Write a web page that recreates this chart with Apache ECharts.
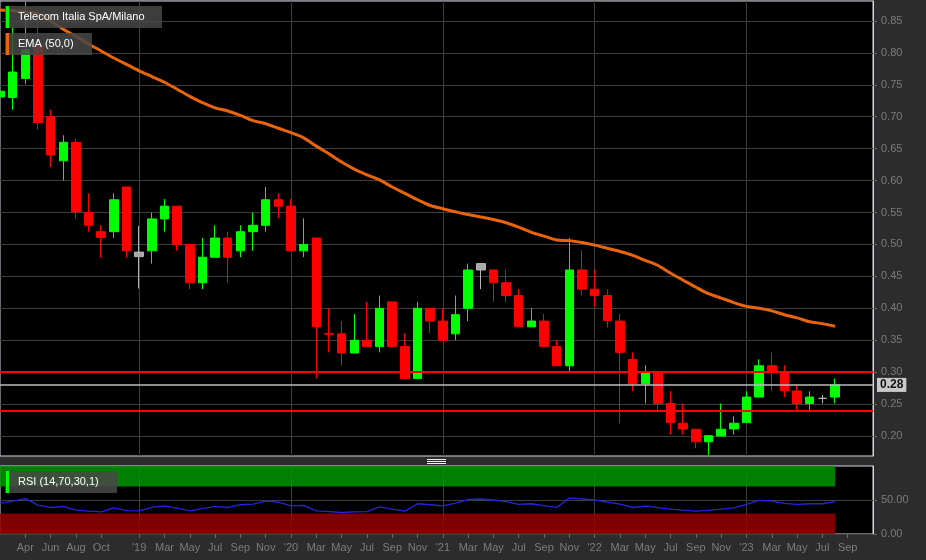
<!DOCTYPE html>
<html>
<head>
<meta charset="utf-8">
<script src="https://cdn.jsdelivr.net/npm/echarts@6/dist/echarts.min.js"></script>
<style>
html,body{margin:0;padding:0;background:#2c2c2c;}
#chart{width:926px;height:560px;}
</style>
</head>
<body>
<div id="chart"></div>
<script>
// Monthly categories (Feb 2018 .. Nov 2023)
const months = [
 '2018-02','2018-03','2018-04','2018-05','2018-06','2018-07','2018-08','2018-09','2018-10','2018-11','2018-12',
 '2019-01','2019-02','2019-03','2019-04','2019-05','2019-06','2019-07','2019-08','2019-09','2019-10','2019-11','2019-12',
 '2020-01','2020-02','2020-03','2020-04','2020-05','2020-06','2020-07','2020-08','2020-09','2020-10','2020-11','2020-12',
 '2021-01','2021-02','2021-03','2021-04','2021-05','2021-06','2021-07','2021-08','2021-09','2021-10','2021-11','2021-12',
 '2022-01','2022-02','2022-03','2022-04','2022-05','2022-06','2022-07','2022-08','2022-09','2022-10','2022-11','2022-12',
 '2023-01','2023-02','2023-03','2023-04','2023-05','2023-06','2023-07','2023-08','2023-09','2023-10','2023-11'
];
const monthNames = ['Jan','Feb','Mar','Apr','May','Jun','Jul','Aug','Sep','Oct','Nov','Dec'];

// OHLC (Feb 2018 .. Aug 2023)
const open = [0.731,0.730,0.760,0.811,0.700,0.631,0.660,0.550,0.520,0.520,0.590,
 0.488,0.490,0.540,0.560,0.500,0.440,0.480,0.510,0.490,0.520,0.530,0.570,
 0.560,0.490,0.510,0.3605,0.360,0.330,0.350,0.340,0.410,0.340,0.290,0.400,
 0.380,0.360,0.400,0.470,0.460,0.440,0.420,0.371,0.380,0.340,0.310,0.460,
 0.430,0.420,0.380,0.320,0.282,0.301,0.251,0.220,0.2105,0.191,0.200,0.211,
 0.221,0.261,0.310,0.301,0.2705,0.251,0.259,0.261];
const close = [0.740,0.770,0.805,0.691,0.640,0.660,0.551,0.530,0.511,0.570,0.490,
 0.481,0.540,0.560,0.500,0.440,0.480,0.510,0.480,0.520,0.530,0.570,0.560,
 0.490,0.500,0.371,0.3595,0.330,0.350,0.340,0.400,0.340,0.290,0.400,0.380,
 0.350,0.390,0.460,0.460,0.440,0.420,0.371,0.380,0.340,0.310,0.460,0.430,
 0.420,0.381,0.331,0.282,0.301,0.251,0.221,0.211,0.191,0.2005,0.2105,0.220,
 0.261,0.310,0.301,0.271,0.251,0.261,0.259,0.280];
const low = [0.653,0.711,0.751,0.680,0.621,0.600,0.541,0.520,0.479,0.510,0.479,
 0.431,0.470,0.520,0.490,0.430,0.430,0.480,0.440,0.480,0.490,0.520,0.541,
 0.490,0.480,0.290,0.331,0.310,0.330,0.340,0.331,0.340,0.290,0.290,0.361,
 0.350,0.350,0.380,0.430,0.410,0.410,0.371,0.371,0.340,0.310,0.301,0.420,
 0.402,0.370,0.220,0.270,0.251,0.241,0.202,0.202,0.181,0.170,0.200,0.202,
 0.221,0.261,0.270,0.261,0.240,0.240,0.251,0.251];
const high = [0.745,0.840,0.880,0.870,0.711,0.671,0.665,0.580,0.530,0.580,0.590,
 0.529,0.550,0.571,0.560,0.500,0.510,0.530,0.520,0.530,0.550,0.590,0.580,
 0.571,0.541,0.510,0.400,0.380,0.391,0.410,0.420,0.410,0.361,0.410,0.400,
 0.400,0.420,0.470,0.470,0.460,0.461,0.430,0.400,0.391,0.350,0.510,0.491,
 0.461,0.430,0.391,0.331,0.311,0.301,0.270,0.251,0.2105,0.2005,0.251,0.231,
 0.270,0.320,0.331,0.311,0.280,0.270,0.264,0.290];
// candles drawn neutral (grey) in the reference
const neutralIdx = [11, 38, 65];

// EMA(50) values
const ema = [0.867,0.866,0.864,0.861,0.850,0.837,0.826,0.814,0.803,0.792,0.782,
 0.772,0.763,0.754,0.743,0.732,0.722,0.714,0.709,0.702,0.694,0.689,0.682,
 0.675,0.667,0.654,0.642,0.629,0.618,0.609,0.601,0.590,0.580,0.570,0.561,
 0.556,0.551,0.547,0.543,0.539,0.534,0.527,0.519,0.513,0.507,0.506,0.503,
 0.499,0.494,0.489,0.483,0.475,0.467,0.455,0.444,0.433,0.423,0.416,0.409,
 0.403,0.400,0.396,0.390,0.385,0.379,0.376,0.372];

// RSI(14)
const rsi = [45,48.5,52,42.5,39,40.6,35,33.6,32.5,38.5,34.3,
 34,39,41.5,38,34,37.3,40.6,39,43,44,48.5,47,
 41.5,42,34,32.8,31.6,32.4,33,40,36.6,33.6,44.5,43,
 41.5,45.5,50.7,51.5,50,47.5,43.6,44.5,41.6,39,53,51.5,
 50,47,44,39,41,38.8,36.6,35,33.6,34.6,36.6,38.5,
 43.6,49.5,48.5,45,43.6,44.5,44.5,47.5];

const priceTicks = [0.20,0.25,0.30,0.35,0.40,0.45,0.50,0.55,0.60,0.65,0.70,0.75,0.80,0.85];
const rsiTicks = [0, 50];
const supportLines = [0.3034, 0.2428];
const lastPrice = 0.281;
const rsiUpper = 70, rsiLower = 30;

const candleData = open.map((o, i) => {
  const v = [o, close[i], low[i], high[i]];
  if (neutralIdx.indexOf(i) >= 0) {
    return {value: v, itemStyle: {color: '#a8a8a8', color0: '#a8a8a8', borderColor: '#b4b4b4', borderColor0: '#b4b4b4'}};
  }
  return v;
});

function showLabel(idx, val) {
  const y = +val.slice(0, 4), m = +val.slice(5, 7);
  if (y === 2018) return m === 4 || m === 6 || m === 8 || m === 10;
  if (y === 2023 && m === 11) return false;
  return m % 2 === 1;
}
function isJan(idx, val) { return val.slice(5, 7) === '01'; }
function fmtMonth(val) {
  const y = val.slice(2, 4), m = +val.slice(5, 7);
  return m === 1 ? "'" + y : monthNames[m - 1];
}

const chart = echarts.init(document.getElementById('chart'), null, {renderer: 'canvas'});
const gridLine = {show: true, lineStyle: {color: '#3e3e3e', width: 1}};
const font = 'Liberation Sans, Arial, sans-serif';
const lastIdx = open.length - 1;

chart.setOption({
  backgroundColor: '#2c2c2c',
  animation: false,
  grid: [
    {left: 0, top: 1, width: 873, height: 455, show: true, backgroundColor: '#000', borderColor: '#d4d8e4', borderWidth: 1},
    {left: 0, top: 466, width: 873, height: 68, show: true, backgroundColor: '#000', borderColor: '#d4d8e4', borderWidth: 1}
  ],
  xAxis: [
    {type: 'category', gridIndex: 0, data: months, boundaryGap: false,
     axisLine: {show: false}, axisTick: {show: false}, axisLabel: {show: false},
     splitLine: {show: true, interval: isJan, lineStyle: {color: '#3e3e3e'}}},
    {type: 'category', gridIndex: 1, data: months, boundaryGap: false,
     axisLine: {show: false},
     axisTick: {show: true, interval: showLabel, length: 4, lineStyle: {color: '#6a6a6a'}},
     axisLabel: {show: true, interval: showLabel, formatter: fmtMonth, color: '#7c7c7c', fontSize: 11, fontFamily: font, margin: 8},
     splitLine: {show: true, interval: isJan, lineStyle: {color: '#3e3e3e'}}}
  ],
  yAxis: [
    {type: 'value', gridIndex: 0, position: 'right', min: 0.16868, max: 0.88128, scale: true,
     axisLine: {show: true, lineStyle: {color: '#d4d8e4'}},
     axisTick: {show: true, length: 4, customValues: priceTicks, lineStyle: {color: '#6a6a6a'}},
     axisLabel: {show: true, customValues: priceTicks, formatter: v => v.toFixed(2), color: '#7c7c7c', fontSize: 11, fontFamily: font, margin: 8},
     splitLine: gridLine},
    {type: 'value', gridIndex: 1, position: 'right', min: 0, max: 100,
     axisLine: {show: true, lineStyle: {color: '#d4d8e4'}},
     axisTick: {show: true, length: 4, customValues: rsiTicks, lineStyle: {color: '#6a6a6a'}},
     axisLabel: {show: true, customValues: rsiTicks, formatter: v => v.toFixed(2), color: '#7c7c7c', fontSize: 11, fontFamily: font, margin: 8},
     splitLine: gridLine}
  ],
  series: [
    {type: 'candlestick', name: 'Telecom Italia SpA/Milano', xAxisIndex: 0, yAxisIndex: 0,
     data: candleData, barWidth: 9, clip: true,
     itemStyle: {color: '#00ff00', color0: '#ff0000', borderColor: '#00ff00', borderColor0: '#ff0000', borderWidth: 1},
     markLine: {silent: true, symbol: 'none', animation: false,
       data: [
         {yAxis: supportLines[0], lineStyle: {color: '#ff0000', width: 2, type: 'solid'}, label: {show: false}},
         {yAxis: supportLines[1], lineStyle: {color: '#ff0000', width: 2, type: 'solid'}, label: {show: false}},
         {yAxis: lastPrice, lineStyle: {color: '#bdbdbd', width: 1.5, type: 'solid'},
          label: {show: true, position: 'end', distance: 4, formatter: '0.28', color: '#111', fontWeight: 'bold',
                  fontSize: 12, fontFamily: font, backgroundColor: '#c9c9c9', padding: [1, 3, 1, 3]}}
       ]}},
    {type: 'line', name: 'EMA (50,0)', xAxisIndex: 0, yAxisIndex: 0, data: ema,
     showSymbol: false, smooth: 0.3, lineStyle: {color: '#ea640c', width: 3}, z: 3},
    {type: 'line', name: 'RSI', xAxisIndex: 1, yAxisIndex: 1, data: rsi,
     showSymbol: false, lineStyle: {color: '#2424e0', width: 1.3}, z: 3,
     markArea: {silent: true,
       data: [
         [{xAxis: months[0], yAxis: rsiUpper, itemStyle: {color: 'rgb(0,150,0)', opacity: 0.85}}, {xAxis: months[lastIdx], yAxis: 100}],
         [{xAxis: months[0], yAxis: 0, itemStyle: {color: 'rgb(150,0,0)', opacity: 0.85}}, {xAxis: months[lastIdx], yAxis: rsiLower}]
       ]}}
  ],
  graphic: [
    {type: 'rect', left: 5, top: 6, shape: {width: 157, height: 22}, style: {fill: 'rgba(72,72,72,0.85)'}, z: 100},
    {type: 'rect', left: 6, top: 6, shape: {width: 3, height: 22}, style: {fill: '#00ff00'}, z: 101},
    {type: 'text', left: 18, top: 11, style: {text: 'Telecom Italia SpA/Milano', fill: '#ffffff', font: '11px ' + font}, z: 101},
    {type: 'rect', left: 5, top: 33, shape: {width: 87, height: 22}, style: {fill: 'rgba(72,72,72,0.85)'}, z: 100},
    {type: 'rect', left: 6, top: 33, shape: {width: 3, height: 22}, style: {fill: '#ea640c'}, z: 101},
    {type: 'text', left: 18, top: 38, style: {text: 'EMA (50,0)', fill: '#ffffff', font: '11px ' + font}, z: 101},
    {type: 'rect', left: 5, top: 471, shape: {width: 112, height: 22}, style: {fill: 'rgba(72,72,72,0.85)'}, z: 100},
    {type: 'rect', left: 6, top: 471, shape: {width: 3, height: 22}, style: {fill: '#00ff00'}, z: 101},
    {type: 'text', left: 18, top: 476, style: {text: 'RSI (14,70,30,1)', fill: '#ffffff', font: '11px ' + font}, z: 101},
    {type: 'rect', left: 427, top: 459, shape: {width: 19, height: 1}, style: {fill: '#f0f0f0'}, z: 101},
    {type: 'rect', left: 427, top: 461, shape: {width: 19, height: 1}, style: {fill: '#f0f0f0'}, z: 101},
    {type: 'rect', left: 427, top: 463, shape: {width: 19, height: 1}, style: {fill: '#f0f0f0'}, z: 101}
  ]
});
</script>
</body>
</html>
